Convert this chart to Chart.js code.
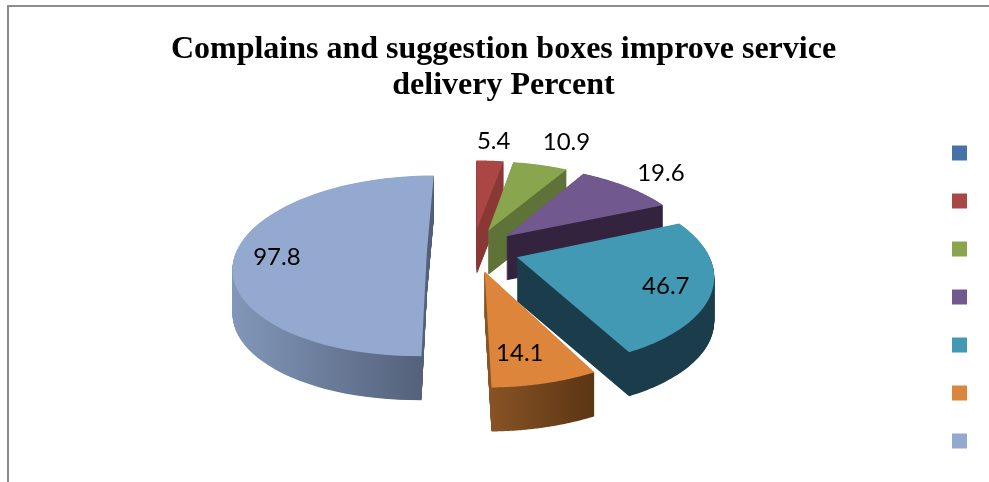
<!DOCTYPE html>
<html>
<head>
<meta charset="utf-8">
<style>
html,body{margin:0;padding:0;background:#fff;overflow:hidden}
#frame{position:absolute;left:7px;top:5px;right:-5px;bottom:-5px;border-top:2px solid #8c8c8c;border-left:2px solid #8c8c8c}
#wrap{position:absolute;left:0;top:0;width:989px;height:482px}
</style>
<script src="https://cdn.jsdelivr.net/npm/chart.js@4"></script>
</head>
<body>
<div id="frame"></div>
<div id="wrap"><canvas id="c" width="989" height="482"></canvas></div>
<script>
const categories = ['', '', '', '', '', '', ''];
const percents = [0, 5.4, 10.9, 19.6, 46.7, 14.1, 97.8];
const valueLabels = ['', '5.4', '10.9', '19.6', '46.7', '14.1', '97.8'];
const topColors = ['#4572a7', '#aa4644', '#89a54e', '#71588f', '#4199b3', '#dd853b', '#93a9cf'];
const sideLeft = ['#2f4e73', '#8a3835', '#5f7238', '#33233f', '#1b3c4a', '#8a5526', '#8297b9'];
const sideRight = ['#2f4e73', '#8a3835', '#5f7238', '#33233f', '#1b3c4a', '#5b3514', '#515e77'];
const labelReach = [0, 1.35, 1.44, 1.32, 0.78, 0.76, 0.78];
const labelTurn = [0, 0, 2, 0, 3, 3, -5];

const VIEW = {x0: 473, y0: 250, radius: 190, squash: 0.461, persp: 1100, depth: 44};

function project(u, v) {
  const k = 1 / (1 - v / VIEW.persp);
  return {x: VIEW.x0 + u * k, y: VIEW.y0 + v * VIEW.squash * k, k};
}

const tiltedPie = {
  id: 'tiltedPie',
  beforeDatasetDraw(chart) {
    const ctx = chart.ctx;
    const arcs = chart.getDatasetMeta(0).data;
    const slices = [];
    arcs.forEach((el, i) => {
      if (percents[i] <= 0) return;
      const mid = (el.startAngle + el.endAngle) / 2;
      const off = el.options.offset;
      const ou = Math.cos(mid) * off, ov = Math.sin(mid) * off;
      const pts = [project(ou, ov)];
      const steps = 64;
      for (let s = 0; s <= steps; s++) {
        const a = el.startAngle + (el.endAngle - el.startAngle) * s / steps;
        pts.push(project(ou + Math.cos(a) * VIEW.radius, ov + Math.sin(a) * VIEW.radius));
      }
      slices.push({i, el, mid, ou, ov, pts});
    });
    slices.sort((a, b) => a.ov - b.ov);
    const trace = (pts, d) => {
      ctx.beginPath();
      pts.forEach((p, n) => {
        const y = p.y + d;
        if (n) ctx.lineTo(p.x, y); else ctx.moveTo(p.x, y);
      });
      ctx.closePath();
    };
    ctx.save();
    slices.forEach(s => {
      const xs = s.pts.map(p => p.x);
      const g = ctx.createLinearGradient(Math.min(...xs), 0, Math.max(...xs), 0);
      g.addColorStop(0, sideLeft[s.i]);
      g.addColorStop(1, sideRight[s.i]);
      ctx.fillStyle = g;
      for (let d = VIEW.depth; d > 0; d -= 0.5) { trace(s.pts, d); ctx.fill(); }
      ctx.fillStyle = s.el.options.backgroundColor;
      trace(s.pts, 0);
      ctx.fill();
    });
    ctx.fillStyle = '#000';
    ctx.font = '24px Lato';
    ctx.textAlign = 'center';
    ctx.textBaseline = 'middle';
    slices.forEach(s => {
      const r = labelReach[s.i] * VIEW.radius;
      const a = s.mid + labelTurn[s.i] * Math.PI / 180;
      const p = project(s.ou + Math.cos(a) * r, s.ov + Math.sin(a) * r);
      ctx.fillText(valueLabels[s.i], p.x, p.y);
    });
    ctx.restore();
    return false;
  }
};

new Chart(document.getElementById('c'), {
  type: 'pie',
  plugins: [tiltedPie],
  data: {
    labels: categories,
    datasets: [{
      data: percents,
      backgroundColor: topColors,
      borderWidth: 0,
      offset: 46,
      hoverOffset: 0
    }]
  },
  options: {
    responsive: false,
    animation: false,
    events: [],
    rotation: 0,
    layout: {padding: {left: 24, right: 6, top: 0, bottom: 0}},
    plugins: {
      title: {
        display: true,
        text: ['Complains and suggestion boxes improve service', 'delivery Percent'],
        color: '#000',
        font: {family: '"Liberation Serif"', size: 32, weight: 'bold', lineHeight: 1.125},
        padding: {top: 32, bottom: 8}
      },
      legend: {
        display: true,
        position: 'right',
        fullSize: false,
        labels: {boxWidth: 15, boxHeight: 15, padding: 33, font: {size: 12}}
      },
      tooltip: {enabled: false}
    }
  }
});
</script>
</body>
</html>
